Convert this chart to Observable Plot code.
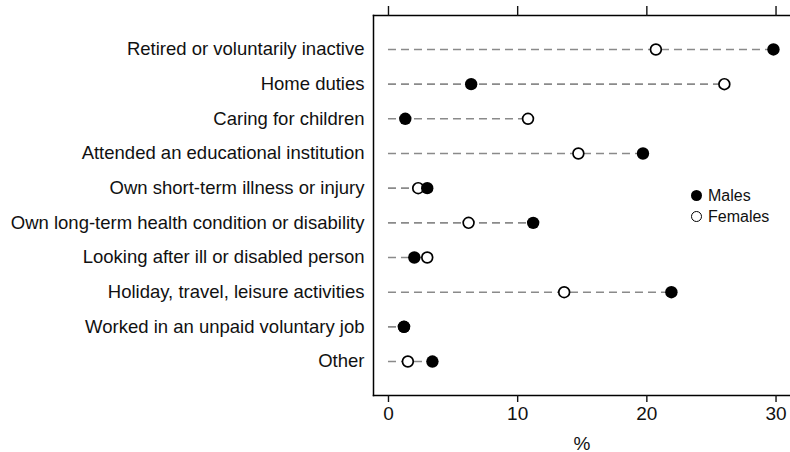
<!DOCTYPE html>
<html>
<head>
<meta charset="utf-8">
<script src="https://cdn.jsdelivr.net/npm/d3@7"></script>
<script src="https://cdn.jsdelivr.net/npm/@observablehq/plot@0.6"></script>
<style>
  html, body { margin: 0; padding: 0; background: #fff; }
  #wrap { position: relative; width: 790px; height: 452px; font-family: "Liberation Sans", Arial, sans-serif; }
  #legend { position: absolute; left: 691px; top: 185px; font-size: 16px; color: #111; line-height: 21px; }
  #legend .item { display: flex; align-items: center; }
  #legend .sw { width: 11px; height: 11px; border-radius: 50%; box-sizing: border-box; margin-right: 6px; }
</style>
</head>
<body>
<div id="wrap"><div id="legend"></div></div>
<script>
const categories = [
  "Retired or voluntarily inactive",
  "Home duties",
  "Caring for children",
  "Attended an educational institution",
  "Own short-term illness or injury",
  "Own long-term health condition or disability",
  "Looking after ill or disabled person",
  "Holiday, travel, leisure activities",
  "Worked in an unpaid voluntary job",
  "Other"
];
const males   = [29.8, 6.4, 1.3, 19.7, 3.0, 11.2, 2.0, 21.9, 1.2, 3.4];
const females = [20.7, 26.0, 10.8, 14.7, 2.3, 6.2, 3.0, 13.6, 1.2, 1.5];
const xTicks = [0, 10, 20, 30];
const seriesNames = ["Males", "Females"];

const rows = categories.map((c, i) => ({cat: c, m: males[i], f: females[i], hi: Math.max(males[i], females[i])}));

const chart = Plot.plot({
  width: 790,
  height: 452,
  marginLeft: 373,
  marginRight: 0,
  marginTop: 15,
  marginBottom: 57,
  style: {fontFamily: "Liberation Sans, Arial, sans-serif", fontSize: "18px", color: "#111", background: "#fff"},
  x: {domain: [-1.16, 31.12]},
  y: {type: "point", domain: categories, padding: 0.98, round: false},
  marks: [
    Plot.ruleY(rows, {y: "cat", x1: 0, x2: "hi", stroke: "#8a8a8a", strokeWidth: 1.6, strokeDasharray: "8,5"}),
    Plot.dot(rows, {x: "f", y: "cat", r: 5.4, fill: "#fff", stroke: "#000", strokeWidth: 1.7}),
    Plot.dot(rows, {x: "m", y: "cat", r: 6.2, fill: "#000", stroke: "none"}),
    Plot.frame({anchor: "left", stroke: "#000", strokeWidth: 1.5}),
    Plot.frame({anchor: "top", stroke: "#000", strokeWidth: 1.5}),
    Plot.frame({anchor: "bottom", stroke: "#000", strokeWidth: 1.5}),
    Plot.axisX({anchor: "top", ticks: xTicks, tickSize: 10, tickFormat: () => "", label: null, strokeWidth: 1.4}),
    Plot.axisX({anchor: "bottom", ticks: xTicks, tickSize: 7, tickPadding: 4, fontSize: 19, label: "%", labelAnchor: "center", labelArrow: "none", strokeWidth: 1.4}),
    Plot.axisY({tickSize: 0, tickPadding: 9, fontSize: 18.5, label: null})
  ]
});
document.getElementById("wrap").prepend(chart);

const legend = document.getElementById("legend");
seriesNames.forEach((name, i) => {
  const item = document.createElement("div");
  item.className = "item";
  const sw = document.createElement("span");
  sw.className = "sw";
  sw.style.background = i === 0 ? "#000" : "#fff";
  sw.style.border = i === 0 ? "none" : "1.6px solid #000";
  item.appendChild(sw);
  const t = document.createElement("span");
  t.textContent = name;
  item.appendChild(t);
  legend.appendChild(item);
});
</script>
</body>
</html>
